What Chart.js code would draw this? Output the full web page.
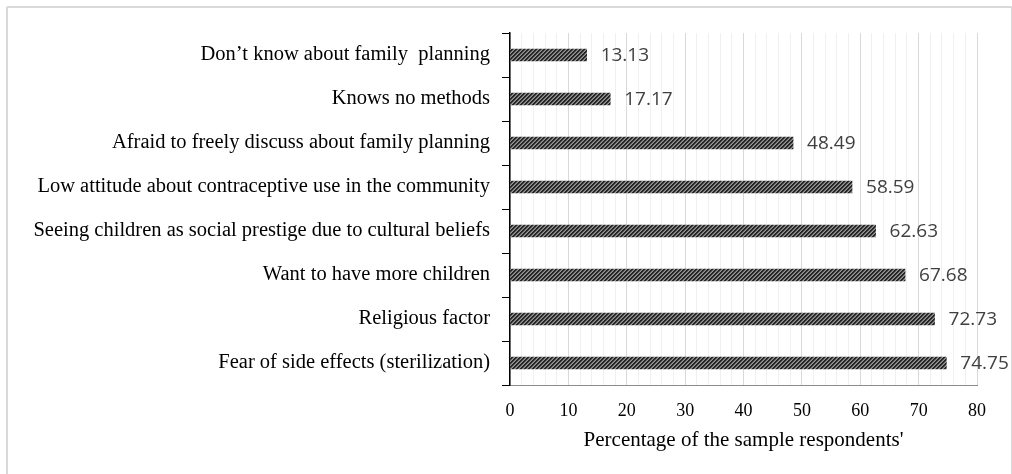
<!DOCTYPE html>
<html>
<head>
<meta charset="utf-8">
<script src="https://cdn.jsdelivr.net/npm/chart.js@4/dist/chart.umd.min.js"></script>
<style>
  html, body { margin: 0; padding: 0; background: #ffffff; overflow: hidden; }
  #wrap { position: relative; width: 1012px; height: 474px; }
  #frame { position: absolute; left: 6px; top: 6px; width: 1003px; height: 480px; border: 2px solid #d9d9d9; border-radius: 2px; pointer-events: none; }
</style>
</head>
<body>
<div id="wrap">
  <canvas id="c"></canvas>
  <div id="frame"></div>
</div>
<script>
const categories = [
  "Don\u2019t know about family  planning",
  "Knows no methods",
  "Afraid to freely discuss about family planning",
  "Low attitude about contraceptive use in the community",
  "Seeing children as social prestige due to cultural beliefs",
  "Want to have more children",
  "Religious factor",
  "Fear of side effects (sterilization)"
];
const values = [13.13, 17.17, 48.49, 58.59, 62.63, 67.68, 72.73, 74.75];
const xTickValues = [0, 10, 20, 30, 40, 50, 60, 70, 80];
const xTitle = "Percentage of the sample respondents'";

function makePattern() {
  const p = document.createElement('canvas');
  p.width = 4; p.height = 4;
  const g = p.getContext('2d');
  const img = g.createImageData(4, 4);
  for (let y = 0; y < 4; y++) {
    for (let x = 0; x < 4; x++) {
      const k = (x + y) % 4;
      let v = k < 2 ? 38 : (k === 2 ? 110 : 150);
      const i = (y * 4 + x) * 4;
      img.data[i] = v; img.data[i + 1] = v; img.data[i + 2] = v; img.data[i + 3] = 255;
    }
  }
  g.putImageData(img, 0, 0);
  return document.getElementById('c').getContext('2d').createPattern(p, 'repeat');
}

const valueLabels = {
  id: 'valueLabels',
  afterDatasetsDraw(chart) {
    const ctx = chart.ctx;
    const meta = chart.getDatasetMeta(0);
    ctx.save();
    ctx.font = '19px "Open Sans"';
    ctx.fillStyle = '#404040';
    ctx.textAlign = 'left';
    ctx.textBaseline = 'middle';
    meta.data.forEach((bar, i) => {
      ctx.fillText(values[i].toFixed(2), bar.x + 14, bar.y + 1);
    });
    ctx.restore();
  }
};

new Chart(document.getElementById('c'), {
  type: 'bar',
  data: {
    labels: categories,
    datasets: [{
      data: values,
      backgroundColor: makePattern(),
      borderWidth: 0,
      barThickness: 12
    }]
  },
  plugins: [valueLabels],
  options: {
    indexAxis: 'y',
    responsive: true,
    maintainAspectRatio: false,
    animation: false,
    layout: { padding: { left: 0, right: 35, top: 33, bottom: 0 } },
    plugins: { legend: { display: false }, tooltip: { enabled: false } },
    scales: {
      x: {
        min: 0,
        max: 80,
        ticks: {
          stepSize: 2,
          autoSkip: false,
          maxRotation: 0,
          padding: 15,
          color: '#000000',
          font: { family: '"Liberation Serif"', size: 18 },
          callback: (v) => xTickValues.includes(v) ? String(v) : ''
        },
        grid: {
          drawTicks: false,
          color: (c) => (c.tick && c.tick.value % 10 === 0) ? '#d9d9d9' : '#f0f0f0',
          lineWidth: 1
        },
        border: { display: true, color: '#8c8c8c', width: 1 },
        title: {
          display: true,
          text: xTitle,
          color: '#000000',
          font: { family: '"Liberation Serif"', size: 21 },
          padding: { top: 0, bottom: 21 }
        },
        afterFit: (s) => { s.height = 89; }
      },
      y: {
        ticks: {
          color: '#000000',
          padding: 12,
          font: { family: '"Liberation Serif"', size: 20.5 }
        },
        grid: {
          drawOnChartArea: false,
          drawTicks: true,
          tickLength: 8,
          color: '#000000',
          lineWidth: 1
        },
        border: { display: true, color: '#000000', width: 1.5 },
        afterFit: (s) => { s.width = 510; }
      }
    }
  }
});
</script>
</body>
</html>
